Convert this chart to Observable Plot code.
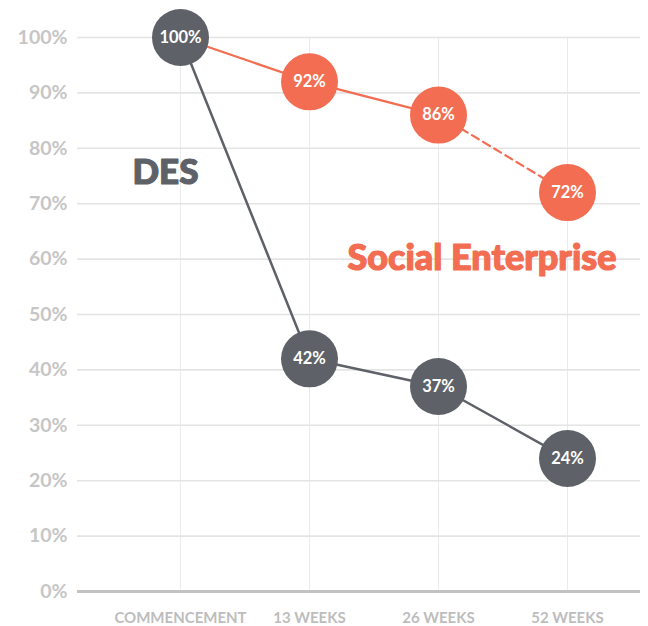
<!DOCTYPE html>
<html>
<head>
<meta charset="utf-8">
<script src="https://cdn.jsdelivr.net/npm/d3@7"></script>
<script src="https://cdn.jsdelivr.net/npm/@observablehq/plot@0.6"></script>
<style>
  html, body { margin: 0; padding: 0; background: #fff; }
  #chart { width: 648px; height: 626px; }
</style>
</head>
<body>
<div id="chart"></div>
<script>
const categories = ["COMMENCEMENT", "13 WEEKS", "26 WEEKS", "52 WEEKS"];
const desValues = [100, 42, 37, 24];
const seValues = [100, 92, 86, 72];
const yTicks = [0, 10, 20, 30, 40, 50, 60, 70, 80, 90, 100];
const seriesNames = ["DES", "Social Enterprise"];
const labelCats = ["COMMENCEMENT", "52 WEEKS"];
const labelValues = [75.6, 60.1];

const GREY = "#5e6268";
const ORANGE = "#f26d51";

const des = categories.map((c, i) => ({cat: c, value: desValues[i]}));
const se = categories.map((c, i) => ({cat: c, value: seValues[i]}));
const seSolid = se.slice(0, 3);
const seDashed = se.slice(2, 4);
const seDots = se.slice(1);

const chart = Plot.plot({
  width: 648,
  height: 626,
  marginTop: 37,
  marginBottom: 35,
  marginLeft: 77,
  marginRight: 8,
  style: {fontFamily: "Lato, 'Open Sans', sans-serif", background: "#fff"},
  x: {type: "point", domain: categories, padding: 0.6654, align: 0.584, label: null},
  y: {domain: [0, 100], label: null},
  marks: [
    Plot.ruleX(categories, {x: d => d, stroke: "#ebebeb", strokeWidth: 1}),
    Plot.ruleY(yTicks.filter(d => d > 0), {y: d => d, stroke: "#e4e4e4", strokeWidth: 1.6}),
    Plot.ruleY([0], {y: d => d, stroke: "#c2c2c2", strokeWidth: 3}),
    Plot.line(seSolid, {x: "cat", y: "value", stroke: ORANGE, strokeWidth: 2.2}),
    Plot.line(seDashed, {x: "cat", y: "value", stroke: ORANGE, strokeWidth: 2.2, strokeDasharray: "8,5"}),
    Plot.line(des, {x: "cat", y: "value", stroke: GREY, strokeWidth: 2.5}),
    Plot.dot(seDots, {x: "cat", y: "value", r: 28.5, fill: ORANGE}),
    Plot.dot(des, {x: "cat", y: "value", r: 28.5, fill: GREY}),
    Plot.text(seDots, {x: "cat", y: "value", text: d => d.value + "%", fill: "#fff", fontSize: 16.5, fontWeight: 700}),
    Plot.text(des, {x: "cat", y: "value", text: d => d.value + "%", fill: "#fff", fontSize: 16.5, fontWeight: 700}),
    Plot.text([0], {x: () => labelCats[0], y: () => labelValues[0], text: () => seriesNames[0], dx: 18, textAnchor: "end", fill: GREY, stroke: GREY, strokeWidth: 1.2, fontSize: 35, fontWeight: 900}),
    Plot.text([0], {x: () => labelCats[1], y: () => labelValues[1], text: () => seriesNames[1], dx: 49, textAnchor: "end", fill: ORANGE, stroke: ORANGE, strokeWidth: 1.2, fontSize: 36, fontWeight: 900}),
    Plot.axisY({ticks: yTicks, tickSize: 0, tickPadding: 10, tickFormat: d => d + "%", fontSize: 19.5, fontWeight: 700, color: "#c6c6c6"}),
    Plot.axisX({tickSize: 0, tickPadding: 21, fontSize: 15, fontWeight: 700, color: "#bdbdbd"})
  ]
});
document.getElementById("chart").appendChild(chart);
</script>
</body>
</html>
